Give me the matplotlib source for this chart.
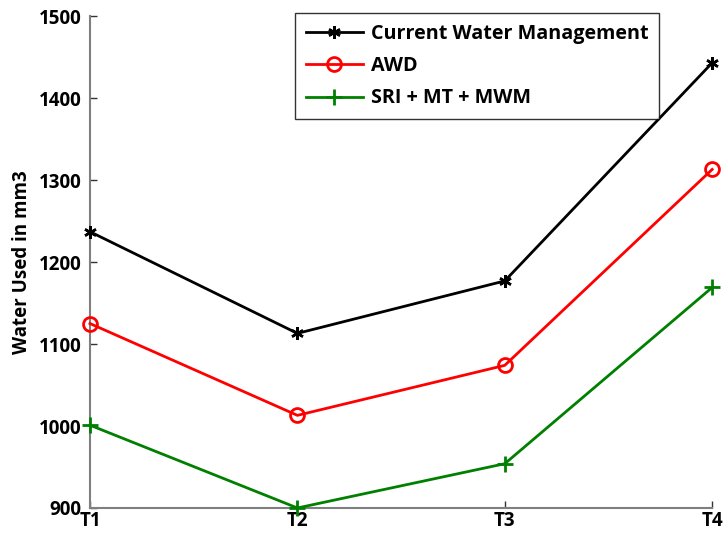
import matplotlib
matplotlib.use("Agg")
import matplotlib.pyplot as plt

categories = ["T1", "T2", "T3", "T4"]
current = [1237, 1113, 1177, 1443]
awd = [1125, 1013, 1074, 1313]
sri = [1001, 900, 954, 1169]
yticks = [900, 1000, 1100, 1200, 1300, 1400, 1500]

plt.rcParams['font.family'] = ['Open Sans', 'DejaVu Sans']
plt.rcParams['font.weight'] = 'bold'

FS = 13.5
LFS = 14.2
fig = plt.figure(figsize=(7.23, 5.38), dpi=100)
ax = fig.add_axes([0.1245, 0.0558, 0.8605, 0.9142])
x = list(range(len(categories)))
ax.plot(x, current, color='black', lw=2, marker=(6, 2, 0), ms=9, mew=1.8, label='Current Water Management', clip_on=False, zorder=3)
ax.plot(x, awd, color='red', lw=2, marker='o', ms=10, mfc='none', mew=2, label='AWD', clip_on=False, zorder=3)
ax.plot(x, sri, color='green', lw=2, marker='+', ms=11, mew=2, label='SRI + MT + MWM', clip_on=False, zorder=3)

ax.set_xlim(0, 3)
ax.set_ylim(900, 1500)
ax.set_xticks(x)
ax.set_xticklabels(categories)
ax.set_yticks(yticks)
ax.spines['top'].set_visible(False)
ax.spines['right'].set_visible(False)
for s in ['left', 'bottom']:
    ax.spines[s].set_color('#7f7f7f')
    ax.spines[s].set_linewidth(1.5)
ax.tick_params(direction='in', length=5, width=1, colors='#333333', labelcolor='black', labelsize=FS)
ax.tick_params(axis='y', pad=6)
ax.tick_params(axis='x', pad=2)
for lab in ax.get_xticklabels() + ax.get_yticklabels():
    lab.set_fontweight('bold')
ax.set_ylabel('Water Used in mm3', fontsize=FS, fontweight='bold', labelpad=5)
leg = ax.legend(loc='upper right', bbox_to_anchor=(0.915, 1.006), fontsize=LFS, frameon=True,
                fancybox=False, edgecolor='black', handlelength=2.9, handletextpad=0.4,
                borderpad=0.55, labelspacing=0.62, borderaxespad=0)
leg.get_frame().set_linewidth(1)
for t in leg.get_texts():
    t.set_fontweight('bold')
fig.savefig('out.png', dpi=100)
